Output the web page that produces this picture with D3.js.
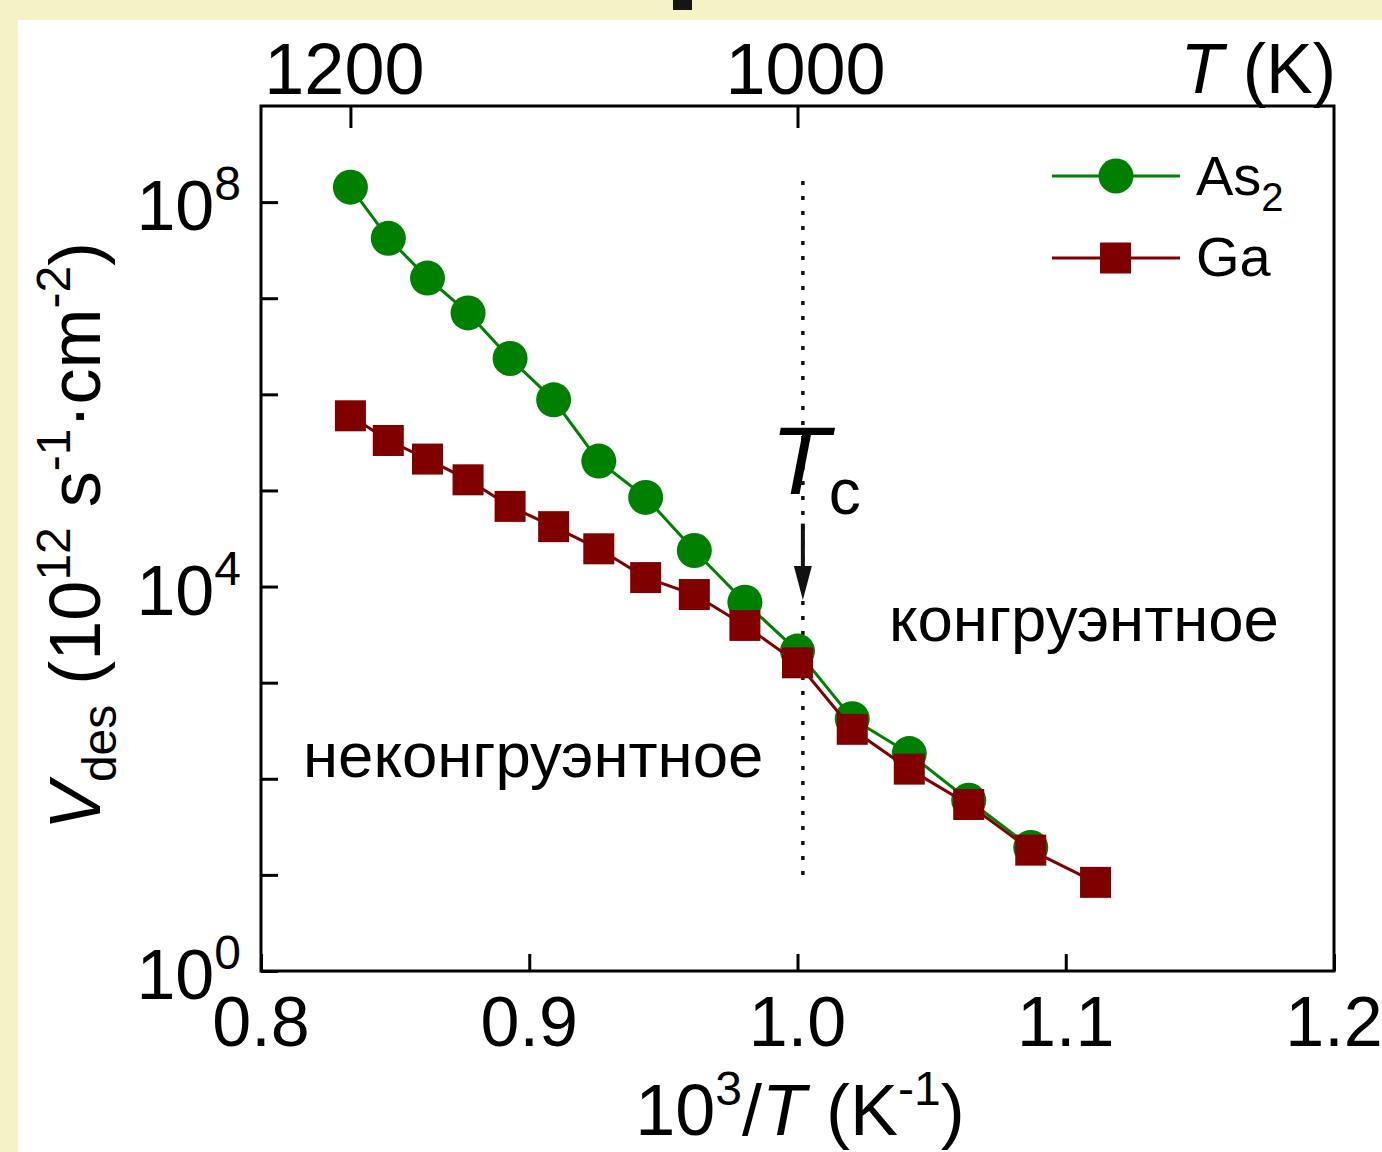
<!DOCTYPE html>
<html>
<head>
<meta charset="utf-8">
<script src="https://cdn.jsdelivr.net/npm/d3@7"></script>
<style>
  body { margin: 0; }
  svg { display: block; }
  text { font-family: "Liberation Sans", Arial, sans-serif; fill: #000; }
</style>
</head>
<body>
<script>
// temperatures (K) of the measured points
var gaTemps = [1200, 1180, 1160, 1140, 1120, 1100, 1080, 1060, 1040, 1020, 1000, 980, 960, 940, 920, 900];
var as2Temps = [1200, 1180, 1160, 1140, 1120, 1100, 1080, 1060, 1040, 1020, 1000, 980, 960, 940, 920];

// desorption rates, 10^12 s^-1 cm^-2
var as2Rates = [1.43e8, 4.20e7, 1.62e7, 7.03e6, 2.36e6, 8.77e5, 2.02e5, 8.47e4, 2.37e4, 6.87e3, 2.13e3, 4.22e2, 1.83e2, 59.8, 19.3];
var gaRates = [5.98e5, 3.31e5, 2.12e5, 1.29e5, 6.82e4, 4.20e4, 2.47e4, 1.24e4, 8.26e3, 3.94e3, 1.61e3, 3.27e2, 1.26e2, 54.0, 18.1, 8.36];

// axis ticks
var xTicks = [0.8, 0.9, 1.0, 1.1, 1.2];
var topTicksK = [1200, 1000];
var yTickExps = [0, 1, 2, 3, 4, 5, 6, 7, 8];
var yLabelExps = [0, 4, 8];

// congruent temperature marker (10^3/T)
var tcInvT = 1.002;

// Chart Params
var svgWidth = 1382;
var svgHeight = 1152;
var margin = { top: 106, right: 48, bottom: 181, left: 261 };
var width = svgWidth - margin.left - margin.right;
var height = svgHeight - margin.top - margin.bottom;

var svg = d3.select("body")
  .append("svg")
  .attr("width", svgWidth)
  .attr("height", svgHeight);

// pale yellow page border
svg.append("rect").attr("width", svgWidth).attr("height", svgHeight).attr("fill", "#f5f3c6");
svg.append("rect").attr("x", 18).attr("y", 20).attr("width", svgWidth - 18).attr("height", svgHeight - 20).attr("fill", "#fff");
svg.append("rect").attr("x", 673).attr("y", 0).attr("width", 19).attr("height", 10).attr("fill", "#151515");

var chartGroup = svg.append("g")
  .attr("transform", `translate(${margin.left}, ${margin.top})`);

var xScale = d3.scaleLinear().domain([0.8, 1.2]).range([0, width]);
var yScale = d3.scaleLog().domain([1, 1e9]).range([height, 0]);

// ticks (inward)
chartGroup.append("g")
  .attr("transform", `translate(0, ${height})`)
  .call(d3.axisBottom(xScale).tickValues(xTicks).tickSize(-17).tickFormat(""))
  .call(g => g.select(".domain").remove())
  .selectAll("line").attr("stroke", "#000").attr("stroke-width", 3);

chartGroup.append("g")
  .call(d3.axisTop(xScale).tickValues(topTicksK.map(t => 1000 / t)).tickSize(-22).tickFormat(""))
  .call(g => g.select(".domain").remove())
  .selectAll("line").attr("stroke", "#000").attr("stroke-width", 3);

chartGroup.append("g")
  .call(d3.axisLeft(yScale).tickValues(yTickExps.map(e => Math.pow(10, e))).tickSize(-17).tickFormat(""))
  .call(g => g.select(".domain").remove())
  .selectAll("line").attr("stroke", "#000").attr("stroke-width", 3);

// frame
chartGroup.append("rect")
  .attr("width", width)
  .attr("height", height)
  .attr("fill", "none")
  .attr("stroke", "#000")
  .attr("stroke-width", 3);

// bottom tick labels
chartGroup.selectAll(".xlab")
  .data(xTicks)
  .enter().append("text")
  .attr("x", d => xScale(d))
  .attr("y", height + 75)
  .attr("text-anchor", "middle")
  .attr("font-size", 70)
  .text(d => d.toFixed(1));

// top tick labels (temperature)
chartGroup.selectAll(".tlab")
  .data(topTicksK)
  .enter().append("text")
  .attr("x", d => xScale(1000 / d) + (d === 1000 ? 8 : -6))
  .attr("y", -12)
  .attr("text-anchor", "middle")
  .attr("font-size", 72)
  .text(d => d);

var tk = chartGroup.append("text")
  .attr("x", width + 2)
  .attr("y", -13)
  .attr("text-anchor", "end")
  .attr("font-size", 70);
tk.append("tspan").attr("font-style", "italic").text("T");
tk.append("tspan").text(" (K)");

// y tick labels 10^n
yLabelExps.forEach(function (e) {
  var t = chartGroup.append("text")
    .attr("x", -20)
    .attr("y", yScale(Math.pow(10, e)) + 28)
    .attr("text-anchor", "end")
    .attr("font-size", 70);
  t.append("tspan").text("10");
  t.append("tspan").attr("font-size", 48).attr("dy", -30).text(e);
});

// dotted Tc line
chartGroup.append("line")
  .attr("x1", xScale(tcInvT)).attr("x2", xScale(tcInvT))
  .attr("y1", yScale(Math.pow(10, 8.22))).attr("y2", yScale(Math.pow(10, 0.945)))
  .attr("stroke", "#111")
  .attr("stroke-width", 3.5)
  .attr("stroke-dasharray", "4 11");

// arrow
var ax = xScale(tcInvT);
var ay1 = yScale(Math.pow(10, 4.655));
var ay2 = yScale(Math.pow(10, 3.86));
chartGroup.append("line")
  .attr("x1", ax).attr("x2", ax)
  .attr("y1", ay1).attr("y2", ay2 - 20)
  .attr("stroke", "#111").attr("stroke-width", 4);
chartGroup.append("path")
  .attr("d", `M${ax - 9},${ay2 - 34} L${ax + 9},${ay2 - 34} L${ax},${ay2} Z`)
  .attr("fill", "#111");

// Tc label
chartGroup.append("text")
  .attr("x", xScale(tcInvT) - 32)
  .attr("y", yScale(Math.pow(10, 4.965)))
  .attr("font-size", 96)
  .attr("font-style", "italic")
  .text("T");
chartGroup.append("text")
  .attr("x", xScale(tcInvT) + 26)
  .attr("y", yScale(Math.pow(10, 4.965)) + 20)
  .attr("font-size", 64)
  .text("c");

// region labels
chartGroup.append("text")
  .attr("x", 42)
  .attr("y", yScale(Math.pow(10, 2.014)))
  .attr("font-size", 63.5)
  .text("неконгруэнтное");
chartGroup.append("text")
  .attr("x", 628)
  .attr("y", yScale(Math.pow(10, 3.43)))
  .attr("font-size", 63.5)
  .text("конгруэнтное");

// Line generator
var line = d3.line()
  .x(d => xScale(1000 / d.t))
  .y(d => yScale(d.v));

var as2Data = as2Temps.map((t, i) => ({ t: t, v: as2Rates[i] }));
var gaData = gaTemps.map((t, i) => ({ t: t, v: gaRates[i] }));

var green = "#008000";
var maroon = "#800000";

chartGroup.append("path")
  .data([as2Data])
  .attr("d", line)
  .attr("fill", "none")
  .attr("stroke", green)
  .attr("stroke-width", 3);

chartGroup.selectAll(".as2")
  .data(as2Data)
  .enter().append("circle")
  .attr("cx", d => xScale(1000 / d.t))
  .attr("cy", d => yScale(d.v))
  .attr("r", 17.5)
  .attr("fill", green);

chartGroup.append("path")
  .data([gaData])
  .attr("d", line)
  .attr("fill", "none")
  .attr("stroke", maroon)
  .attr("stroke-width", 3);

chartGroup.selectAll(".ga")
  .data(gaData)
  .enter().append("rect")
  .attr("x", d => xScale(1000 / d.t) - 15.5)
  .attr("y", d => yScale(d.v) - 15.5)
  .attr("width", 31)
  .attr("height", 31)
  .attr("fill", maroon);

// legend
var legend = svg.append("g");
legend.append("line").attr("x1", 1052).attr("x2", 1180).attr("y1", 176).attr("y2", 176)
  .attr("stroke", green).attr("stroke-width", 3);
legend.append("circle").attr("cx", 1116).attr("cy", 176).attr("r", 17.5).attr("fill", green);
var l1 = legend.append("text").attr("x", 1196).attr("y", 195).attr("font-size", 56);
l1.append("tspan").text("As");
l1.append("tspan").attr("font-size", 40).attr("dy", 16).text("2");

legend.append("line").attr("x1", 1052).attr("x2", 1180).attr("y1", 258).attr("y2", 258)
  .attr("stroke", maroon).attr("stroke-width", 3);
legend.append("rect").attr("x", 1100).attr("y", 242.5).attr("width", 31).attr("height", 31).attr("fill", maroon);
legend.append("text").attr("x", 1196).attr("y", 276).attr("font-size", 56).text("Ga");

// x axis title
var xt = svg.append("text")
  .attr("x", 800)
  .attr("y", 1135)
  .attr("text-anchor", "middle")
  .attr("font-size", 72);
xt.append("tspan").text("10");
xt.append("tspan").attr("font-size", 48).attr("dy", -30).text("3");
xt.append("tspan").attr("dy", 30).text("/");
xt.append("tspan").attr("font-style", "italic").text("T");
xt.append("tspan").text(" (K");
xt.append("tspan").attr("font-size", 48).attr("dy", -30).text("-1");
xt.append("tspan").attr("dy", 30).text(")");

// y axis title
var yt = svg.append("text")
  .attr("transform", "translate(100, 536) rotate(-90)")
  .attr("text-anchor", "middle")
  .attr("font-size", 72);
yt.append("tspan").attr("font-style", "italic").text("V");
yt.append("tspan").attr("font-size", 48).attr("dy", 16).text("des");
yt.append("tspan").attr("dy", -16).text(" (10");
yt.append("tspan").attr("font-size", 48).attr("dy", -30).text("12");
yt.append("tspan").attr("dy", 30).text(" s");
yt.append("tspan").attr("font-size", 48).attr("dy", -30).text("-1");
yt.append("tspan").attr("dy", 30).text("·cm");
yt.append("tspan").attr("font-size", 48).attr("dy", -30).text("-2");
yt.append("tspan").attr("dy", 30).text(")");
</script>
</body>
</html>
